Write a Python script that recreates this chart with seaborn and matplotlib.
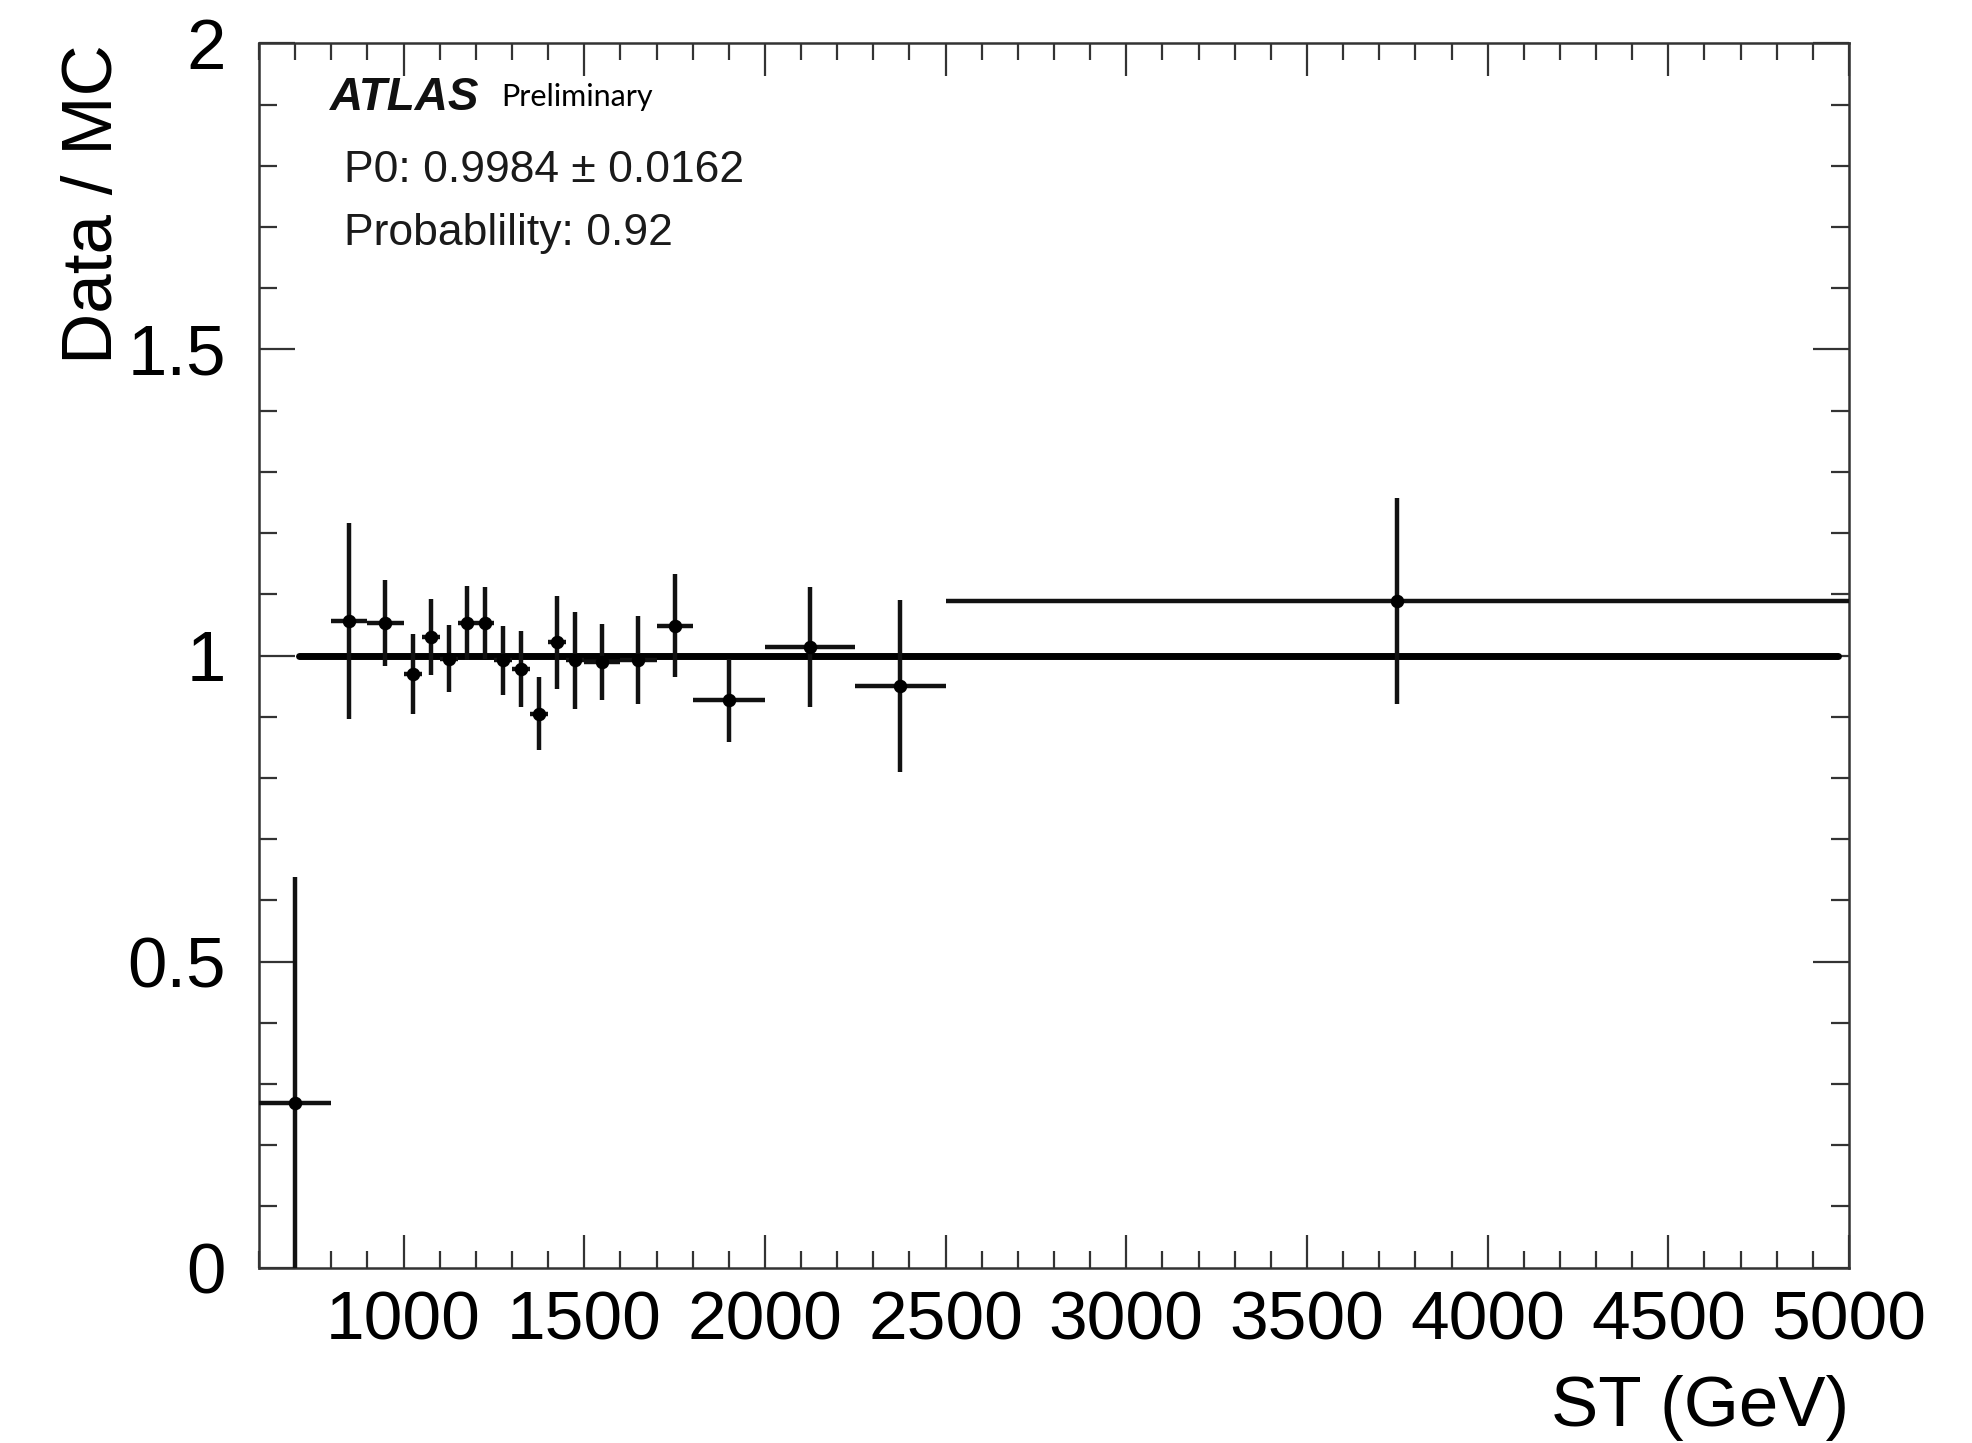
import numpy as np
import pandas as pd
import matplotlib
matplotlib.use("Agg")
import matplotlib.pyplot as plt
import seaborn as sns
from matplotlib.ticker import MultipleLocator

# ---- data ----
st_center = [700, 850, 950, 1025, 1075, 1125, 1175, 1225, 1275, 1325,
             1375, 1425, 1475, 1550, 1650, 1750, 1900, 2125, 2375, 3750]
st_halfwidth = [100, 50, 50, 25, 25, 25, 25, 25, 25, 25,
                25, 25, 25, 50, 50, 50, 100, 125, 125, 1250]
ratio = [0.269, 1.057, 1.053, 0.970, 1.030, 0.995, 1.053, 1.053, 0.992, 0.978,
         0.905, 1.022, 0.992, 0.990, 0.992, 1.049, 0.927, 1.014, 0.950, 1.089]
ratio_err = [0.369, 0.160, 0.070, 0.065, 0.062, 0.055, 0.061, 0.059, 0.057, 0.062,
             0.060, 0.076, 0.079, 0.062, 0.072, 0.084, 0.068, 0.098, 0.140, 0.168]
fit_value = 0.9984
fit_range = [710, 4970]

x_ticks = [1000, 1500, 2000, 2500, 3000, 3500, 4000, 4500, 5000]
y_ticks = [0, 0.5, 1, 1.5, 2]
y_ticklabels = ["0", "0.5", "1", "1.5", "2"]

df = pd.DataFrame({"ST": st_center, "ratio": ratio})
fit_df = pd.DataFrame({"ST": fit_range, "fit": [fit_value, fit_value]})

sns.set_theme(style="ticks")
plt.rcParams["font.family"] = ["Liberation Sans", "DejaVu Sans"]

W, H = 1972, 1443
fig = plt.figure(figsize=(W / 100, H / 100), dpi=100)
ax = fig.add_axes([259 / W, 1 - 1267.7 / H, (1849 - 259) / W, (1267.7 - 43.3) / H])

# fit line
sns.lineplot(data=fit_df, x="ST", y="fit", ax=ax, color="black", lw=5.0,
             legend=False, zorder=2)

# error bars
ax.errorbar(st_center, ratio, xerr=st_halfwidth, yerr=ratio_err, fmt="none",
            ecolor="#111111", elinewidth=3.2, capsize=0, zorder=3)
# markers
sns.scatterplot(data=df, x="ST", y="ratio", ax=ax, color="black", s=95,
                marker="o", edgecolor="black", linewidth=0, zorder=4, legend=False)

ax.set_xlim(600, 5000)
ax.set_ylim(0, 2)
ax.set_xlabel("")
ax.set_ylabel("")

ax.set_xticks(x_ticks)
ax.set_xticklabels([str(t) for t in x_ticks])
ax.set_yticks(y_ticks)
ax.set_yticklabels(y_ticklabels)
ax.xaxis.set_minor_locator(MultipleLocator(100))
ax.yaxis.set_minor_locator(MultipleLocator(0.1))

ax.tick_params(which="both", direction="in", top=True, right=True,
               color="#333333", width=1.6, labelcolor="black")
ax.tick_params(axis="x", which="major", length=24, pad=16, labelsize=50)
ax.tick_params(axis="x", which="minor", length=12)
ax.tick_params(axis="y", which="major", length=26, pad=24, labelsize=51)
ax.tick_params(axis="y", which="minor", length=13)
for s in ax.spines.values():
    s.set_linewidth(1.8)
    s.set_color("#333333")
ax.set_facecolor("white")
fig.patch.set_facecolor("white")

# axis titles
fig.text(94 / W, 1 - 44 / H, "Data / MC", rotation=90, ha="center", va="top",
         fontsize=51, color="black")
fig.text(1849 / W, 1 - 1426 / H, "ST (GeV)", ha="right", va="baseline",
         fontsize=51, color="black")

# annotations
fig.text(330 / W, 1 - 110 / H, "ATLAS", fontsize=33, fontweight="bold",
         fontstyle="italic", color="#111111", va="baseline", ha="left")
fig.text(501 / W, 1 - 106 / H, "Preliminary", fontsize=22,
         family=["Lato", "DejaVu Sans"], color="black", va="baseline", ha="left")
fig.text(344 / W, 1 - 182 / H, "P0: 0.9984 \u00b1 0.0162", fontsize=32,
         color="#1a1a1a", va="baseline", ha="left")
fig.text(344 / W, 1 - 245 / H, "Probablility: 0.92", fontsize=32,
         color="#1a1a1a", va="baseline", ha="left")

fig.savefig("out.png", dpi=100, facecolor="white")
